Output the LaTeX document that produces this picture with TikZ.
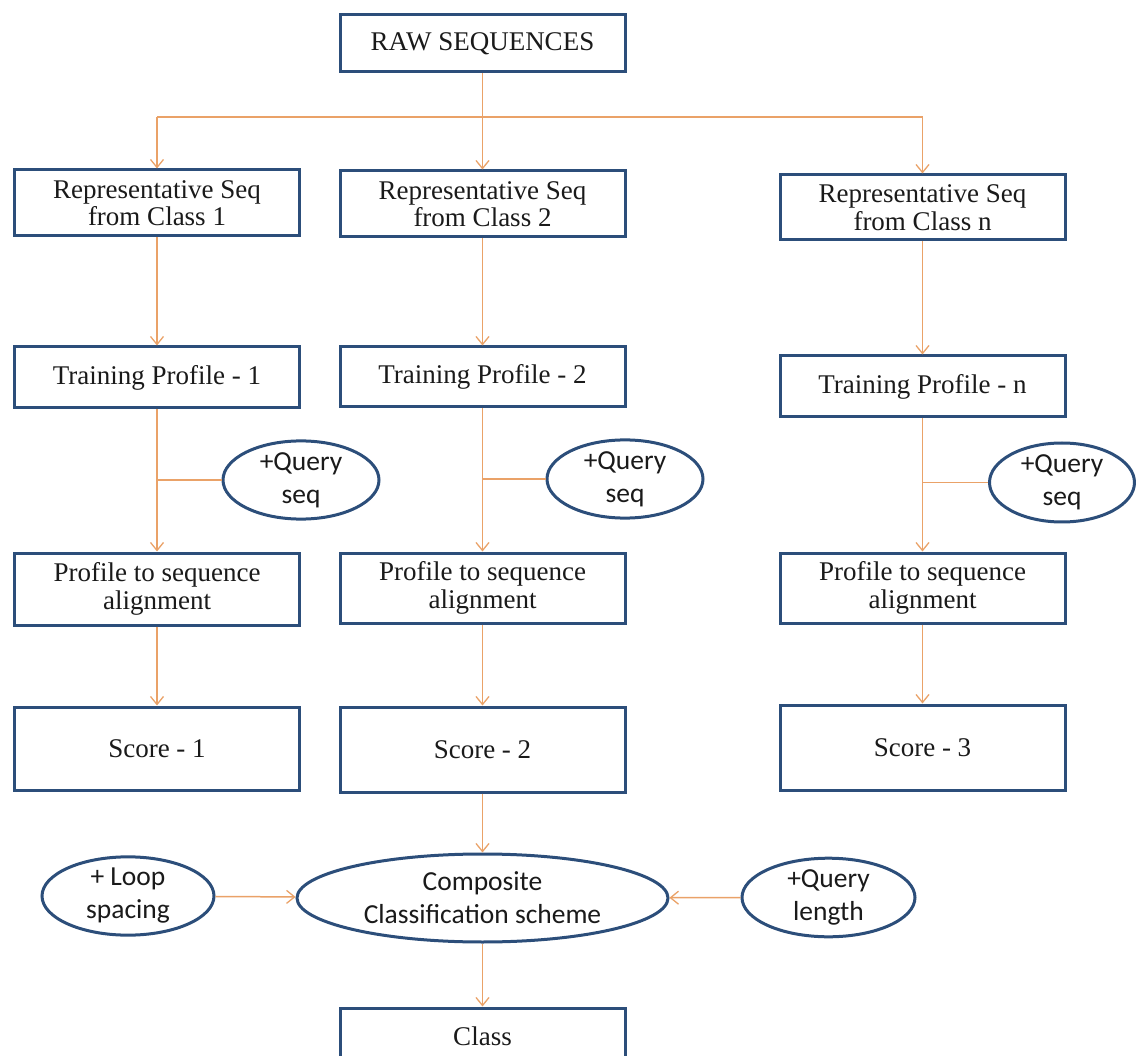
\documentclass[tikz,border=0pt]{standalone}
\usepackage{fontspec}
\setmainfont{Liberation Serif}
\newfontfamily\calibri{Carlito}
\usetikzlibrary{arrows.meta,shapes.geometric}

\definecolor{boxblue}{RGB}{44,78,122}
\definecolor{linkorange}{RGB}{234,162,104}
\definecolor{inkgray}{RGB}{26,26,26}

\tikzset{
  stepbox/.style={draw=boxblue, line width=3pt, fill=white, rectangle,
    minimum width=285pt, align=center, text=inkgray, inner sep=0pt,
    font=\fontsize{27}{27.5}\selectfont},
  inputoval/.style={draw=boxblue, line width=3pt, fill=white, ellipse,
    inner sep=0pt, align=center, text=inkgray,
    font=\calibri\fontsize{27.5}{33}\selectfont},
  link/.style={draw=linkorange, line width=1.5pt},
  flow/.style={link, -{Straight Barb[length=8pt,width=13pt,line width=1.3pt]}},
}

\begin{document}
\begin{tikzpicture}[x=1pt,y=-1pt]
  \useasboundingbox (0,0) rectangle (1136,1056);
  \clip (0,0) rectangle (1136,1056);

  % top source
  \node[stepbox, minimum height=57pt] (raw) at (482.5,43.5) {RAW SEQUENCES};

  % one column per class
  \node[stepbox, minimum height=66pt] (rep1) at (157,203) {Representative Seq\\from Class 1};
  \node[stepbox, minimum height=66pt] (rep2) at (482.5,204) {Representative Seq\\from Class 2};
  \node[stepbox, minimum height=65pt] (rep3) at (922.5,207.5) {Representative Seq\\from Class n};

  \node[stepbox, minimum height=61pt] (train1) at (157,377.5) {Training Profile - 1};
  \node[stepbox, minimum height=60pt] (train2) at (482.5,377) {Training Profile - 2};
  \node[stepbox, minimum height=61pt] (train3) at (922.5,386.5) {Training Profile - n};

  \node[inputoval, minimum width=156pt, minimum height=77pt] (q1) at (301,480) {+Query\\seq};
  \node[inputoval, minimum width=156pt, minimum height=77pt] (q2) at (625,479) {+Query\\seq};
  \node[inputoval, minimum width=145pt, minimum height=79pt] (q3) at (1062,482.5) {+Query\\seq};

  \node[stepbox, minimum height=72pt] (align1) at (157,589) {Profile to sequence\\alignment};
  \node[stepbox, minimum height=70pt] (align2) at (482.5,588) {Profile to sequence\\alignment};
  \node[stepbox, minimum height=70pt] (align3) at (922.5,588) {Profile to sequence\\alignment};

  \node[stepbox, minimum height=83pt] (score1) at (157,748.5) {Score - 1};
  \node[stepbox, minimum height=85pt] (score2) at (482.5,749.5) {Score - 2};
  \node[stepbox, minimum height=85pt] (score3) at (922.5,747.5) {Score - 3};

  % combining stage
  \node[inputoval, minimum width=371pt, minimum height=88pt] (comp) at (482.5,898) {Composite\\Classification scheme};
  \node[inputoval, minimum width=172pt, minimum height=78pt] (loop) at (128,896) {+ Loop\\spacing};
  \node[inputoval, minimum width=173pt, minimum height=69pt] (qlen) at (828.5,897.5) {+Query\\length};

  \node[stepbox, minimum height=56pt] (class) at (482.5,1036) {Class};

  % fan-out from the raw sequences
  \coordinate (bus) at (482.5,117);
  \draw[flow] (raw) -- (rep2);
  \draw[link] (bus -| rep1) -- (bus -| rep3);
  \draw[flow] (bus -| rep1) -- (rep1);
  \draw[flow] (bus -| rep3) -- (rep3);

  % column flows
  \foreach \i in {1,2,3} {
    \draw[flow] (rep\i) -- (train\i);
    \draw[flow] (train\i) -- (align\i);
    \draw[flow] (align\i) -- (score\i);
    \draw[link] (q\i.west) -- (q\i.west -| train\i);
  }

  % classification
  \draw[flow] (score2) -- (comp);
  \draw[flow] (loop) -- (comp);
  \draw[flow] (qlen) -- (comp);
  \draw[flow] (comp) -- (class);
\end{tikzpicture}
\end{document}
